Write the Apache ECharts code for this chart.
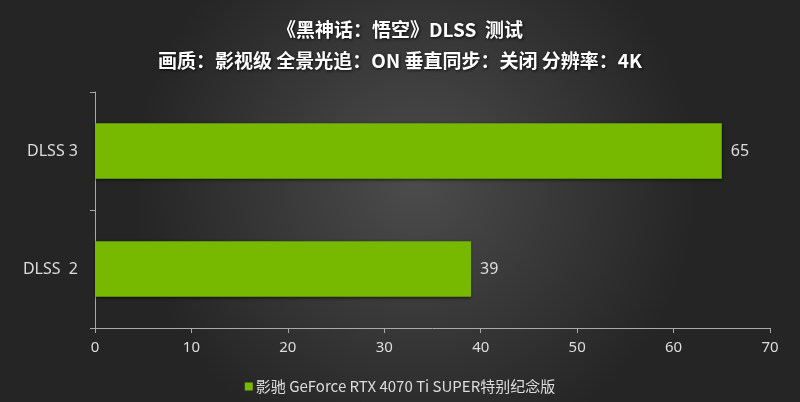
<!DOCTYPE html>
<html><head><meta charset="utf-8">
<script src="https://cdn.jsdelivr.net/npm/echarts@6/dist/echarts.min.js"></script>
<style>html,body{margin:0;padding:0;background:#222;}#c{width:800px;height:402px;}</style>
</head><body><div id="c"></div>
<script>
const titleLine1 = '《黑神话：悟空》DLSS  测试';
const titleLine2 = '画质：影视级 全景光追：ON 垂直同步：关闭 分辨率：4K';
const categories = ['DLSS  2', 'DLSS 3'];
const seriesName = '影驰 GeForce RTX 4070 Ti SUPER特别纪念版';
const values = [39, 65];
const xTicks = [0, 10, 20, 30, 40, 50, 60, 70];

const chart = echarts.init(document.getElementById('c'));
chart.setOption({
  backgroundColor: {
    type: 'radial', x: 0.52, y: 0.45, r: 0.7,
    colorStops: [{offset: 0, color: '#4c4c4c'}, {offset: 1, color: '#252525'}]
  },
  title: {
    text: titleLine1 + '\n' + titleLine2,
    left: 'center', top: 9,
    textStyle: {
      color: '#ffffff', fontSize: 19, fontWeight: 'bold', lineHeight: 31,
      fontFamily: 'Noto Sans CJK SC',
      textShadowColor: 'rgba(0,0,0,0.8)', textShadowBlur: 3, textShadowOffsetX: 1, textShadowOffsetY: 1
    }
  },
  legend: {
    bottom: 3, left: 'center',
    itemWidth: 8, itemHeight: 8, itemGap: 4,
    icon: 'rect',
    textStyle: {color: '#dddddd', fontSize: 15, fontFamily: 'Noto Sans CJK SC', padding: [0,0,0,-2]},
    data: [seriesName]
  },
  grid: {left: 95, right: 30, top: 92, bottom: 74},
  xAxis: {
    type: 'value', min: xTicks[0], max: xTicks[xTicks.length - 1], interval: 10,
    axisLine: {show: true, lineStyle: {color: '#aaaaaa'}},
    axisTick: {show: true, length: 5, lineStyle: {color: '#aaaaaa'}},
    axisLabel: {color: '#dddddd', fontSize: 15, margin: 12, fontFamily: 'Noto Sans'},
    splitLine: {show: false}
  },
  yAxis: {
    type: 'category', data: categories,
    axisLine: {show: true, lineStyle: {color: '#aaaaaa'}},
    axisTick: {show: true, length: 5, lineStyle: {color: '#aaaaaa'}},
    axisLabel: {color: '#dddddd', fontSize: 16, margin: 17, fontFamily: 'Noto Sans'}
  },
  series: [{
    name: seriesName, type: 'bar', data: values, barWidth: '47%',
    itemStyle: {color: '#76b900', shadowColor: 'rgba(0,0,0,0.6)', shadowBlur: 3, shadowOffsetY: 1},
    label: {show: true, position: 'right', color: '#dddddd', fontSize: 16, distance: 9, fontFamily: 'Noto Sans'}
  }]
});
</script></body></html>
